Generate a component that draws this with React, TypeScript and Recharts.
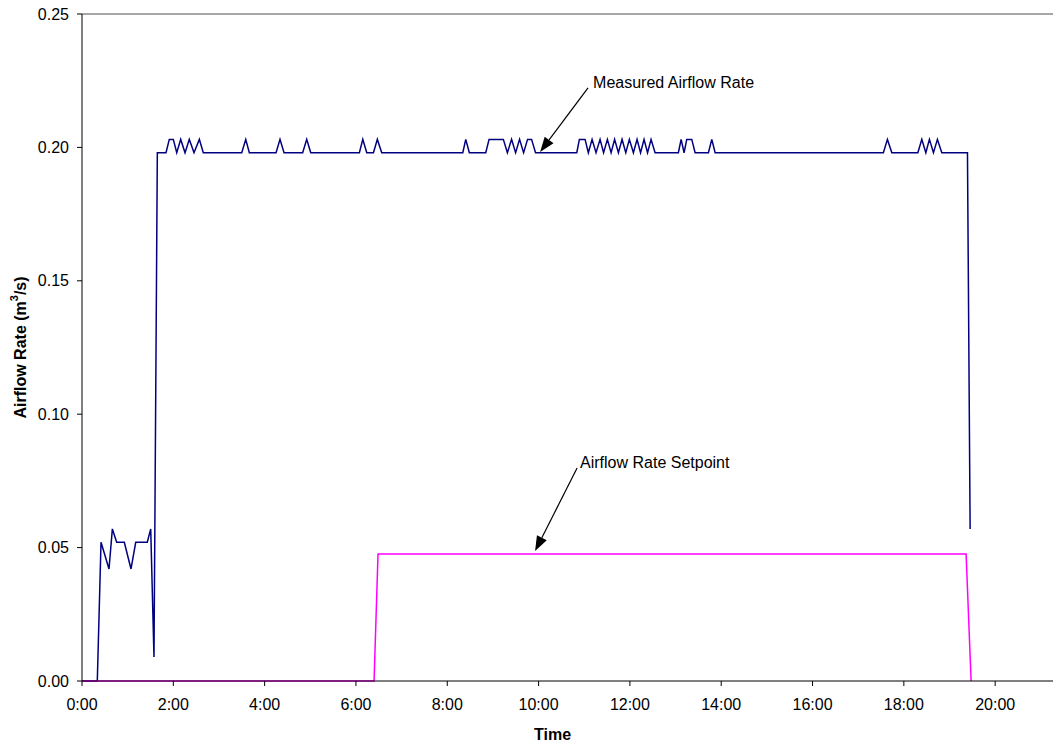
import React from "react";
import {
  LineChart,
  Line,
  XAxis,
  YAxis,
  ReferenceLine,
  ReferenceDot,
} from "recharts";

// Time in minutes since 0:00
const measuredTimes = [
  0, 20.1, 25, 35.5, 39.9, 45.6, 55.6, 64.4, 70.6, 85.8, 90.3, 94.6, 99,
  110.4, 114.7, 120, 124.5, 129.7, 135.4, 141, 147.2, 154.2, 159.4,
  209.9, 215.2, 219.9, 255, 260.2, 265.5, 290, 295.3, 300.6,
  364.5, 369, 374.2, 383, 388.1, 393.9,
  500.4, 504.3, 509, 530.6, 534.9, 553.7, 559, 564.5, 569.8, 575, 580.3, 585.5, 590.8, 596,
  650.2, 653.6, 661.1, 665.4, 670.3, 675.5, 680.8, 685.4, 690.4, 695.3, 699.9, 704.9,
  709.7, 714.6, 719.3, 724.6, 729.4, 734, 738.6, 743.2, 747.8, 753.1,
  783.7, 787.3, 791.2, 794.7, 801.3, 805.7, 823.2, 827.6, 832,
  1053.1, 1058.4, 1064.2, 1098.4, 1103.6, 1108.9, 1113.6, 1118.9, 1124.1, 1129.9,
  1163.6, 1167.1,
];
const measuredValues = [
  0, 0, 0.052, 0.042, 0.057, 0.052, 0.052, 0.042, 0.052, 0.052, 0.057, 0.009, 0.198,
  0.198, 0.203, 0.203, 0.198, 0.203, 0.198, 0.203, 0.198, 0.203, 0.198,
  0.198, 0.203, 0.198, 0.198, 0.203, 0.198, 0.198, 0.203, 0.198,
  0.198, 0.203, 0.198, 0.198, 0.203, 0.198,
  0.198, 0.203, 0.198, 0.198, 0.203, 0.203, 0.198, 0.203, 0.198, 0.203, 0.198, 0.203, 0.203, 0.198,
  0.198, 0.203, 0.203, 0.198, 0.203, 0.198, 0.203, 0.198, 0.203, 0.198, 0.203, 0.198,
  0.203, 0.198, 0.203, 0.198, 0.203, 0.198, 0.203, 0.198, 0.203, 0.198,
  0.198, 0.203, 0.198, 0.203, 0.203, 0.198, 0.198, 0.203, 0.198,
  0.198, 0.203, 0.198, 0.198, 0.203, 0.198, 0.203, 0.198, 0.203, 0.198,
  0.198, 0.057,
];

const setpointTimes = [0, 383.8, 389, 1161.8, 1168.4];
const setpointValues = [0, 0, 0.0476, 0.0476, 0];

const xTicks = [0, 120, 240, 360, 480, 600, 720, 840, 960, 1080, 1200];
const yTicks = [0, 0.05, 0.1, 0.15, 0.2, 0.25];

const xTitle = "Time";
const yTitle = "Airflow Rate (m";
const measuredLabel = "Measured Airflow Rate";
const setpointLabel = "Airflow Rate Setpoint";

const measuredData = measuredTimes.map((t, i) => ({ t, v: measuredValues[i] }));
const setpointData = setpointTimes.map((t, i) => ({ t, v: setpointValues[i] }));

const FONT = "'Liberation Sans', Arial, Helvetica, sans-serif";

const Arrow = (p: any) => {
  const { x1, y1, x2, y2 } = p;
  const dx = x2 - x1;
  const dy = y2 - y1;
  const len = Math.hypot(dx, dy) || 1;
  const ux = dx / len;
  const uy = dy / len;
  const L = 15;
  const W = 5.5;
  const bx = x2 - ux * L;
  const by = y2 - uy * L;
  const pts = `${x2},${y2} ${bx - uy * W},${by + ux * W} ${bx + uy * W},${by - ux * W}`;
  return (
    <g>
      <line x1={x1} y1={y1} x2={bx} y2={by} stroke="#000" strokeWidth={1.2} />
      <polygon points={pts} fill="#000" />
    </g>
  );
};

const makeTextShape = (label: string) => (p: any) => (
  <text x={p.cx} y={p.cy} fontFamily={FONT} fontSize={16} fill="#000">
    {label}
  </text>
);

export default function App() {
  return (
    <div style={{ position: "absolute", left: 0, top: 0, width: 1053, height: 744, background: "#fff" }}>
      <LineChart
        width={1053}
        height={744}
        margin={{ top: 14, right: 0, left: 0, bottom: 0 }}
      >
        <XAxis
          type="number"
          dataKey="t"
          domain={[0, 1276]}
          ticks={xTicks}
          tickFormatter={(t: number) => `${Math.round(t / 60)}:00`}
          allowDataOverflow
          height={63}
          stroke="#000"
          tickSize={5}
          tickMargin={13}
          tick={{ fontSize: 16, fill: "#000", fontFamily: FONT }}
          label={(props: any) => {
            const vb = props.viewBox || {};
            return (
              <text
                x={vb.x + vb.width / 2 - 15}
                y={740}
                textAnchor="middle"
                fontFamily={FONT}
                fontSize={16}
                fontWeight="bold"
                fill="#000"
              >
                {xTitle}
              </text>
            );
          }}
        />
        <YAxis
          type="number"
          domain={[0, 0.25]}
          ticks={yTicks}
          tickFormatter={(v: number) => v.toFixed(2)}
          width={82}
          stroke="#000"
          tickSize={5}
          tickMargin={8}
          tick={{ fontSize: 16, fill: "#000", fontFamily: FONT }}
          label={(props: any) => {
            const vb = props.viewBox || {};
            const cy = vb.y + vb.height / 2;
            return (
              <text
                x={20}
                y={cy}
                transform={`rotate(-90, 20, ${cy})`}
                textAnchor="middle"
                dominantBaseline="central"
                fontFamily={FONT}
                fontSize={16}
                fontWeight="bold"
                fill="#000"
              >
                {yTitle}
                <tspan dy={-6} fontSize={11}>3</tspan>
                <tspan dy={6}>/s)</tspan>
              </text>
            );
          }}
        />
        <ReferenceLine y={0.25} stroke="#8a8a8a" strokeWidth={1.5} />
        <Line
          data={measuredData}
          dataKey="v"
          type="linear"
          stroke="#000080"
          strokeWidth={1.5}
          dot={false}
          isAnimationActive={false}
        />
        <Line
          data={setpointData}
          dataKey="v"
          type="linear"
          stroke="#FF00FF"
          strokeWidth={1.5}
          dot={false}
          isAnimationActive={false}
        />
        <ReferenceLine
          segment={[
            { x: 665, y: 0.2223 },
            { x: 602, y: 0.1983 },
          ]}
          shape={Arrow}
        />
        <ReferenceLine
          segment={[
            { x: 650.6, y: 0.0798 },
            { x: 595.4, y: 0.0487 },
          ]}
          shape={Arrow}
        />
        <ReferenceDot x={671.6} y={0.2223} r={0} shape={makeTextShape(measuredLabel)} />
        <ReferenceDot x={654.5} y={0.0798} r={0} shape={makeTextShape(setpointLabel)} />
      </LineChart>
    </div>
  );
}
